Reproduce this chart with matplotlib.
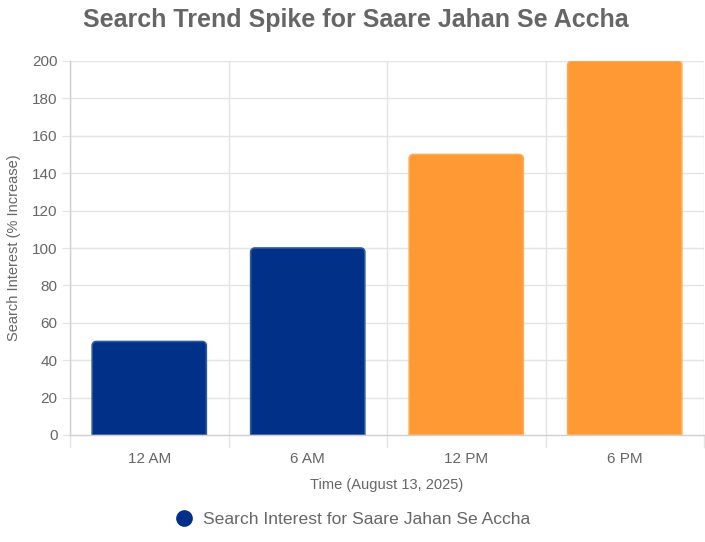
import matplotlib
matplotlib.use("Agg")
import matplotlib.pyplot as plt
from matplotlib.path import Path
from matplotlib.patches import PathPatch
from matplotlib.lines import Line2D

categories = ["12 AM", "6 AM", "12 PM", "6 PM"]
values = [50, 100, 150, 200]
bar_colors = ["#003087", "#003087", "#FF9933", "#FF9933"]
edge_colors = ["#2c5aa0", "#2c5aa0", "#FFAA55", "#FFAA55"]
y_ticks = [0, 20, 40, 60, 80, 100, 120, 140, 160, 180, 200]
title = "Search Trend Spike for Saare Jahan Se Accha"
xlabel = "Time (August 13, 2025)"
ylabel = "Search Interest (% Increase)"
legend_label = "Search Interest for Saare Jahan Se Accha"

plt.rcParams['font.family'] = ['Liberation Sans', 'DejaVu Sans']
W, H = 705, 542
fig = plt.figure(figsize=(W / 100, H / 100), dpi=100)
left, right, top, bottom = 70, 704, 61, 435
ax = fig.add_axes([left / W, 1 - bottom / H, (right - left) / W, (bottom - top) / H])
ax.set_xlim(-0.5, len(categories) - 0.5)
ax.set_ylim(0, 200)

grid_c = "#e4e4e4"
txt_c = "#666666"
for s in ["top", "right"]:
    ax.spines[s].set_visible(False)
for s in ["left", "bottom"]:
    ax.spines[s].set_color("#d0d0d0")
    ax.spines[s].set_linewidth(1)

ax.set_yticks(y_ticks)
ax.set_yticklabels([str(v) for v in y_ticks])
ax.set_xticks(range(len(categories)))
ax.set_xticklabels(categories)
ax.tick_params(axis="y", length=6, color=grid_c, labelcolor=txt_c, labelsize=11, pad=3)
ax.tick_params(axis="x", length=0, labelcolor=txt_c, labelsize=11, pad=12)

# grid lines
for v in y_ticks[1:]:
    ax.axhline(v, color=grid_c, lw=1, zorder=0)
for i in range(len(categories) + 1):
    xb = i - 0.5
    ax.plot([xb, xb], [0, 200], color=grid_c, lw=1, zorder=0)
    ax.plot([xb, xb], [0, -6.5], color=grid_c, lw=1, zorder=0, clip_on=False)

# bars with rounded top corners
bw = 0.72
px_per_x = (right - left) / len(categories)
px_per_y = (bottom - top) / 200
r_px = 4
rx, ry = r_px / px_per_x, r_px / px_per_y
k = 0.5523
for i, (v, fc, ec) in enumerate(zip(values, bar_colors, edge_colors)):
    x0, x1 = i - bw / 2, i + bw / 2
    verts = [
        (x0, 0), (x0, v - ry),
        (x0, v - ry + k * ry), (x0 + rx - k * rx, v), (x0 + rx, v),
        (x1 - rx, v),
        (x1 - rx + k * rx, v), (x1, v - ry + k * ry), (x1, v - ry),
        (x1, 0), (x0, 0),
    ]
    codes = [Path.MOVETO, Path.LINETO,
             Path.CURVE4, Path.CURVE4, Path.CURVE4,
             Path.LINETO,
             Path.CURVE4, Path.CURVE4, Path.CURVE4,
             Path.LINETO, Path.CLOSEPOLY]
    ax.add_patch(PathPatch(Path(verts, codes), facecolor=fc, edgecolor=ec, lw=1.2, zorder=2))

ax.set_xlabel(xlabel, color=txt_c, fontsize=10.5, labelpad=9)
ax.set_ylabel(ylabel, color=txt_c, fontsize=10.5, labelpad=8)

fig.text(356 / W, 1 - 20 / H, title, ha="center", va="center", fontsize=18,
         fontweight="bold", color="#666666")

handle = Line2D([], [], marker="o", linestyle="none", markersize=11,
                markerfacecolor="#003087", markeredgecolor="#003087")
fig.legend([handle], [legend_label], loc="center", bbox_to_anchor=(352.5 / W, 1 - 519 / H),
           frameon=False, fontsize=12.6, labelcolor=txt_c, handlelength=1.0,
           handletextpad=0.56, borderpad=0, borderaxespad=0)

fig.savefig("out.png", dpi=100)
